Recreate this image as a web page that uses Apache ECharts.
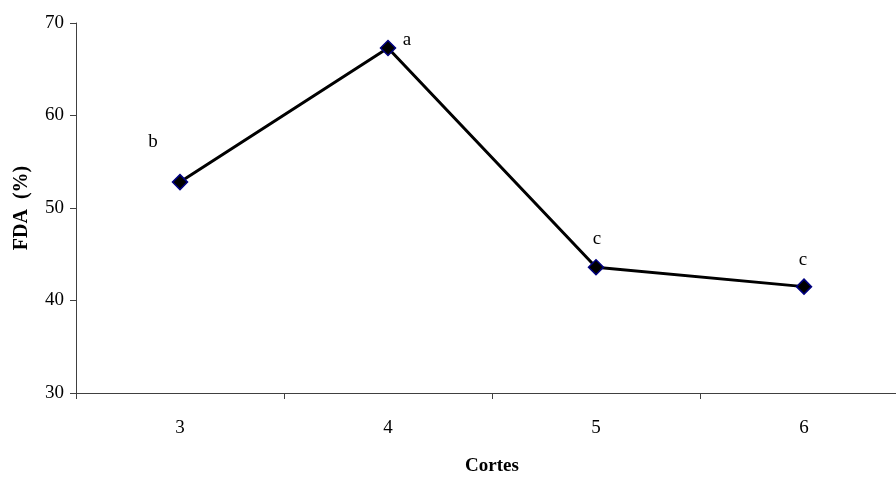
<!DOCTYPE html>
<html>
<head>
<meta charset="utf-8">
<script src="https://cdn.jsdelivr.net/npm/echarts@6/dist/echarts.min.js"></script>
<style>html,body{margin:0;padding:0;background:#fff;overflow:hidden;width:896px;height:482px;}#c{width:908px;height:482px;}</style>
</head>
<body>
<div id="c"></div>
<script>
const categories = ['3', '4', '5', '6'];
const fdaValues = [52.8, 67.3, 43.6, 41.5];
const letterLabels = ['b', 'a', 'c', 'c'];
const yTicks = { min: 30, max: 70, interval: 10 };
const xTitle = 'Cortes';
const yTitle = 'FDA  (%)';

const labelOffsets = [[-27, -40], [19, -8], [1, -28], [-1, -27]];
const font = '"Liberation Serif", "Times New Roman", serif';

const chart = echarts.init(document.getElementById('c'), null, { renderer: 'canvas' });
chart.setOption({
  animation: false,
  backgroundColor: '#fff',
  grid: { left: 76, top: 23, right: 0, bottom: 89, containLabel: false },
  xAxis: {
    type: 'category',
    data: categories,
    boundaryGap: true,
    name: xTitle,
    nameLocation: 'middle',
    nameGap: 64,
    nameTextStyle: { fontFamily: font, fontWeight: 'bold', fontSize: 19, color: '#000' },
    axisLine: { lineStyle: { color: '#404040', width: 1 } },
    axisTick: { show: true, inside: false, length: 6, alignWithLabel: false, lineStyle: { color: '#404040' } },
    axisLabel: { fontFamily: font, fontSize: 19, color: '#000', margin: 26 },
    splitLine: { show: false }
  },
  yAxis: {
    type: 'value',
    min: yTicks.min,
    max: yTicks.max,
    interval: yTicks.interval,
    name: yTitle,
    nameLocation: 'middle',
    nameGap: 44,
    nameRotate: 90,
    nameTextStyle: { fontFamily: font, fontWeight: 'bold', fontSize: 20, color: '#000' },
    axisLine: { show: true, lineStyle: { color: '#404040', width: 1 } },
    axisTick: { show: true, inside: false, length: 6, lineStyle: { color: '#404040' } },
    axisLabel: { fontFamily: font, fontSize: 19, color: '#000', margin: 12 },
    splitLine: { show: false }
  },
  series: [{
    type: 'line',
    data: fdaValues.map((v, i) => ({
      value: v,
      label: {
        show: true,
        formatter: letterLabels[i],
        position: 'inside',
        offset: labelOffsets[i],
        fontFamily: font,
        fontSize: 19,
        color: '#000'
      }
    })),
    symbol: 'diamond',
    symbolSize: 15,
    itemStyle: { color: '#000', borderColor: '#000080', borderWidth: 1.5 },
    lineStyle: { color: '#000', width: 3 },
    z: 3
  }]
});
</script>
</body>
</html>
